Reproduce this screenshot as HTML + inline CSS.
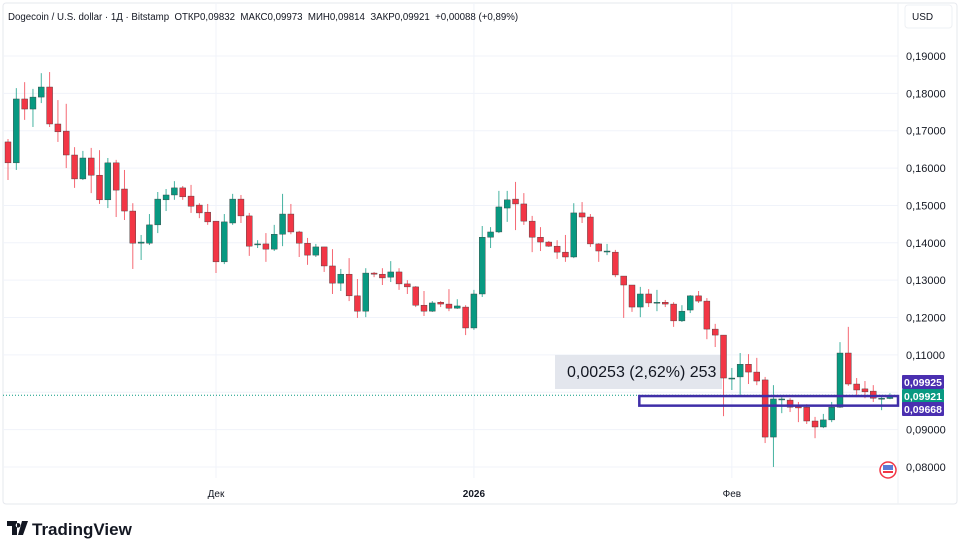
<!DOCTYPE html>
<html><head><meta charset="utf-8">
<style>
html,body{margin:0;padding:0;background:#fff;width:960px;height:553px;overflow:hidden}
svg{display:block;font-family:"Liberation Sans","DejaVu Sans",sans-serif}
</style></head>
<body>
<svg id="chart" width="960" height="553" viewBox="0 0 960 553" xmlns="http://www.w3.org/2000/svg">
  <rect x="3" y="3" width="954" height="501" fill="#fff" stroke="#e6e8ee" stroke-width="1" rx="3"/>
  <g id="grid"></g>
  <line x1="898" y1="3" x2="898" y2="504" stroke="#eef0f4"/>
  <g id="overlay-bg"></g>
  <g id="candles"></g>
  <g id="overlay"></g>
  <g id="yaxis"></g>
  <g id="xaxis"></g>
  <text x="8" y="20" font-size="9.7" fill="#131722" xml:space="preserve">Dogecoin / U.S. dollar · 1Д · Bitstamp  ОТКР0,09832  МАКС0,09973  МИН0,09814  ЗАКР0,09921  +0,00088 (+0,89%)</text>
  <rect x="905" y="5" width="47" height="23" rx="3" fill="#fff" stroke="#eef0f4"/>
  <text x="912" y="20" font-size="10" fill="#131722">USD</text>
  <g>
    <circle cx="888" cy="470" r="8" fill="#fff" stroke="#f23645" stroke-width="1.5"/>
    <rect x="883" y="465" width="10" height="5" fill="#5b7bd5"/>
    <rect x="883" y="471" width="10" height="2" fill="#f23645"/>
  </g>
  <g>
    <path d="M7 521h10v14h-5v-9h-5z M18 523a2.3 2.3 0 1 0 0.01 0z M22 521h6l-5 14h-5z" fill="#131722"/>
    <text x="32" y="535" font-size="17" font-weight="bold" fill="#131722">TradingView</text>
  </g>
</svg>
<script>
const opens  = [0.1670,0.1614,0.1785,0.1758,0.1790,0.1817,0.1718,0.1699,0.1635,0.1571,0.1627,0.1581,0.1515,0.1614,0.1544,0.1485,0.1399,0.1399,0.1448,0.1515,0.1528,0.1547,0.1525,0.1501,0.1482,0.1458,0.1349,0.1453,0.1517,0.1472,0.1397,0.1397,0.1383,0.1423,0.1477,0.1429,0.1399,0.1367,0.1389,0.1338,0.1292,0.1316,0.1258,0.1217,0.1319,0.1316,0.1308,0.1322,0.1290,0.1282,0.1233,0.1217,0.1241,0.1236,0.1225,0.1228,0.1172,0.1263,0.1415,0.1429,0.1493,0.1517,0.1504,0.1458,0.1415,0.1402,0.1391,0.1375,0.1362,0.1480,0.1469,0.1397,0.1378,0.1375,0.1311,0.1287,0.1228,0.1263,0.1241,0.1241,0.1236,0.1191,0.1220,0.1258,0.1244,0.1169,0.1153,0.1038,0.1041,0.1075,0.1054,0.1033,0.0880,0.0982,0.0979,0.0963,0.0960,0.0923,0.0907,0.0926,0.0960,0.1105,0.1022,0.1009,0.1003,0.0984,0.09832];
const highs  = [0.1678,0.1814,0.1830,0.1812,0.1854,0.1857,0.1782,0.1772,0.1656,0.1646,0.1654,0.1648,0.1627,0.1622,0.1595,0.1506,0.1421,0.1477,0.1536,0.1544,0.1565,0.1552,0.1555,0.1506,0.1504,0.1458,0.1477,0.1531,0.1528,0.1480,0.1407,0.1426,0.1448,0.1531,0.1504,0.1432,0.1413,0.1397,0.1389,0.1383,0.1330,0.1359,0.1303,0.1332,0.1322,0.1332,0.1351,0.1332,0.1300,0.1284,0.1271,0.1244,0.1244,0.1276,0.1249,0.1233,0.1274,0.1445,0.1442,0.1539,0.1539,0.1563,0.1533,0.1472,0.1442,0.1405,0.1407,0.1421,0.1506,0.1509,0.1477,0.1399,0.1397,0.1381,0.1311,0.1287,0.1282,0.1276,0.1274,0.1247,0.1241,0.1233,0.1260,0.1271,0.1252,0.1183,0.1153,0.1065,0.1105,0.1102,0.1092,0.1041,0.1019,0.0987,0.0984,0.0974,0.0968,0.0934,0.0942,0.0974,0.1134,0.1175,0.1038,0.1030,0.1019,0.0990,0.09973];
const lows   = [0.1568,0.1595,0.1729,0.1710,0.1774,0.1710,0.1670,0.1600,0.1547,0.1568,0.1533,0.1504,0.1493,0.1469,0.1461,0.1330,0.1354,0.1394,0.1426,0.1485,0.1515,0.1515,0.1480,0.1466,0.1448,0.1319,0.1343,0.1448,0.1453,0.1365,0.1386,0.1349,0.1378,0.1391,0.1423,0.1362,0.1341,0.1362,0.1322,0.1263,0.1271,0.1244,0.1199,0.1201,0.1308,0.1287,0.1295,0.1274,0.1263,0.1228,0.1204,0.1215,0.1228,0.1217,0.1223,0.1153,0.1167,0.1255,0.1386,0.1426,0.1456,0.1434,0.1448,0.1375,0.1378,0.1389,0.1357,0.1349,0.1359,0.1453,0.1389,0.1349,0.1367,0.1308,0.1199,0.1215,0.1201,0.1228,0.1217,0.1228,0.1175,0.1188,0.1212,0.1239,0.1142,0.1121,0.0936,0.1006,0.0992,0.1022,0.1019,0.0864,0.0800,0.0944,0.0947,0.0920,0.0915,0.0877,0.0904,0.0920,0.0958,0.1017,0.0987,0.0984,0.0974,0.0952,0.09814];
const closes = [0.1614,0.1785,0.1758,0.1790,0.1817,0.1718,0.1697,0.1635,0.1571,0.1627,0.1581,0.1515,0.1614,0.1541,0.1485,0.1399,0.1402,0.1448,0.1517,0.1528,0.1547,0.1523,0.1498,0.1480,0.1456,0.1349,0.1456,0.1517,0.1472,0.1391,0.1397,0.1383,0.1423,0.1477,0.1429,0.1399,0.1367,0.1389,0.1338,0.1292,0.1316,0.1258,0.1217,0.1319,0.1316,0.1306,0.1322,0.1290,0.1282,0.1233,0.1217,0.1239,0.1236,0.1225,0.1231,0.1172,0.1263,0.1415,0.1429,0.1496,0.1515,0.1504,0.1458,0.1415,0.1402,0.1391,0.1375,0.1362,0.1480,0.1469,0.1397,0.1378,0.1378,0.1314,0.1287,0.1228,0.1263,0.1239,0.1241,0.1236,0.1191,0.1217,0.1258,0.1244,0.1169,0.1153,0.1038,0.1038,0.1075,0.1054,0.1030,0.0880,0.0982,0.0982,0.0960,0.0958,0.0923,0.0907,0.0926,0.0960,0.1105,0.1022,0.1006,0.1001,0.0984,0.0984,0.09921];
const priceTicks = [0.19,0.18,0.17,0.16,0.15,0.14,0.13,0.12,0.11,0.10,0.09,0.08];
const timeLabels = ["Дек","2026","Фев"];
const timeLabelIdx = [25,56,87];
const lastPrice = 0.09921;
const measureTop = 0.09925;
const measureBottom = 0.09668;
const measureStartIdx = 76;

const NS="http://www.w3.org/2000/svg";
const yOf = p => 56 + (0.19 - p) * 3736;
const xOf = i => 8 + 8.32 * i;
function mk(tag, attrs, parent){const e=document.createElementNS(NS,tag);for(const k in attrs)e.setAttribute(k,attrs[k]);parent.appendChild(e);return e;}
const fmt = p => p.toFixed(5).replace('.',',');

const grid=document.getElementById('grid'), yaxis=document.getElementById('yaxis'), xaxis=document.getElementById('xaxis');
priceTicks.forEach(p=>{
  const y=yOf(p);
  const l=mk('line',{x1:3,x2:898,y1:y,y2:y,stroke:'#f0f3fa','stroke-width':1},grid);
  
  
  if(Math.abs(p-0.10)<1e-9) return;
  const t=mk('text',{x:906,y:y+4,'font-size':11,fill:'#131722'},yaxis);
  t.textContent=fmt(p);
  
  
});
timeLabels.forEach((s,k)=>{
  const x=xOf(timeLabelIdx[k]);
  const l=mk('line',{x1:x,x2:x,y1:3,y2:478,stroke:'#f0f3fa','stroke-width':1},grid);
  
  
  const t=mk('text',{x:x,y:497,'font-size':10,fill:'#131722','text-anchor':'middle','font-weight':s==='2026'?'bold':'normal'},xaxis);
  t.textContent=s;
  
  
});
const lp=mk('line',{x1:3,x2:898,y1:yOf(lastPrice),y2:yOf(lastPrice),stroke:'#089981','stroke-width':1,'stroke-dasharray':'1 2'},grid);



const ovbg=document.getElementById('overlay-bg');
const mb=mk('rect',{x:555,y:355,width:167,height:34,fill:'#e0e3eb',opacity:0.9},ovbg);


const mt=mk('text',{x:567,y:377,'font-size':16,fill:'#131722'},ovbg);
mt.textContent='0,00253 (2,62%) 253';



const cg=document.getElementById('candles');
for(let i=0;i<opens.length;i++){
  const o=opens[i],c=closes[i],h=highs[i],lo=lows[i];
  const col = c>=o ? '#089981' : '#f23645';
  const x=xOf(i);
  const g=mk('g',{},cg);
  
  
  mk('line',{x1:x,x2:x,y1:yOf(h),y2:yOf(lo),stroke:col,'stroke-width':1,opacity:0.75},g);
  const top=yOf(Math.max(o,c)), bot=yOf(Math.min(o,c));
  mk('rect',{x:x-3,y:top,width:6,height:Math.max(1,bot-top),fill:col,stroke:'#3a3a3a','stroke-width':0.4},g);
}

const ov=document.getElementById('overlay');
const mr=mk('rect',{x:xOf(measureStartIdx)-1,y:yOf(measureTop)+1,width:898-xOf(measureStartIdx)+1,height:yOf(measureBottom)-yOf(measureTop),fill:'none',stroke:'#3f2ea8','stroke-width':2.5},ov);



const tags=[[measureTop,'#4a2fb0',382],[lastPrice,'#089981',396],[measureBottom,'#4a2fb0',409]];
tags.forEach(([p,col,cy])=>{
  const r=mk('rect',{x:902,y:cy-7,width:42,height:14,fill:col,rx:1},yaxis);
  
  
  const t=mk('text',{x:923,y:cy+4,'font-size':10.5,'font-weight':'bold',fill:'#fff','text-anchor':'middle'},yaxis);
  t.textContent=fmt(p);
  
  
});
</script>
</body></html>
